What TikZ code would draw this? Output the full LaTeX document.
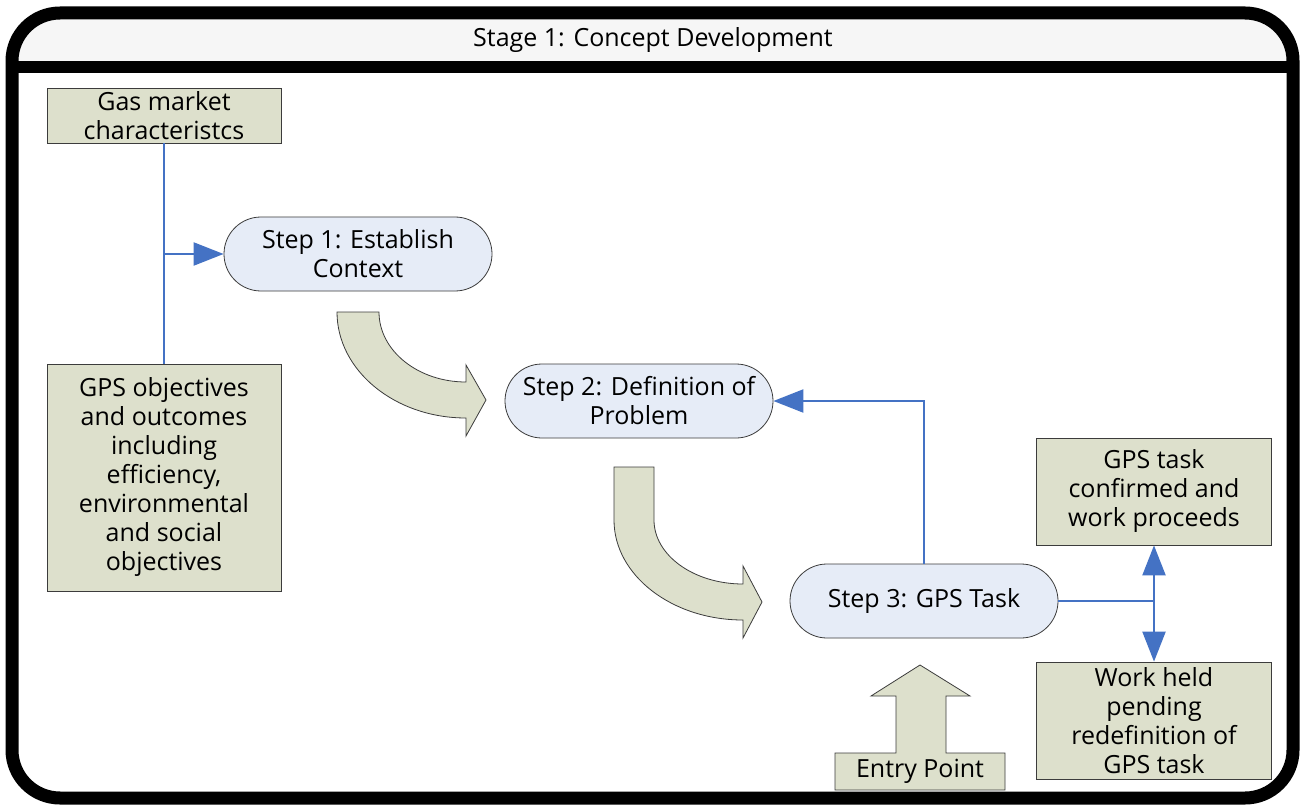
\documentclass[tikz,border=0pt]{standalone}
\usepackage{fontspec}
\setmainfont{Open Sans}
\usetikzlibrary{arrows.meta}
\definecolor{olive}{RGB}{221,224,204}
\definecolor{stepfill}{RGB}{230,236,247}
\definecolor{conn}{RGB}{68,114,196}
\definecolor{edgegray}{RGB}{60,60,60}
\definecolor{headgray}{RGB}{246,246,246}
\begin{document}
\begin{tikzpicture}[x=1pt,y=-1pt,
  every node/.style={font=\fontsize{25}{29}\selectfont, align=center, inner sep=0pt},
  infobox/.style={draw=edgegray, line width=0.8pt, fill=olive},
  stepnode/.style={draw=edgegray, line width=0.8pt, fill=stepfill, rounded corners=37pt, minimum width=268pt, minimum height=74pt},
  link/.style={draw=conn, line width=2.2pt},
  linkarrow/.style={link, -{Triangle[length=30pt,width=23pt]}},
  bigarrow/.style={draw=edgegray, line width=0.8pt, fill=olive}
]
\useasboundingbox (0,0) rectangle (1308,810);
% frame
\begin{scope}
\clip[rounded corners=48pt] (12,13) rectangle (1293,798);
\fill[white] (12,13) rectangle (1293,798);
\fill[headgray] (12,13) rectangle (1293,67);
\end{scope}
\draw[line width=13pt, rounded corners=48pt] (12,13) rectangle (1293,798);
\draw[line width=12pt] (12,67) -- (1293,67);
\node (title) at (653,40) {Stage 1: Concept Development};

% boxes
\node[infobox, minimum width=234pt, minimum height=55pt] (gas) at (164,115.5) {Gas market\\characteristcs};
\node[infobox, minimum width=234pt, minimum height=227pt] (gps) at (164,477.5) {GPS objectives\\and outcomes\\including\\efficiency,\\environmental\\and social\\objectives};
\node[stepnode] (s1) at (358,254) {Step 1: Establish\\Context};
\node[stepnode] (s2) at (639,401) {Step 2: Definition of\\Problem};
\node[stepnode] (s3) at (924,601) {Step 3: GPS Task};
\node[infobox, minimum width=235pt, minimum height=107pt] (conf) at (1154,491.5) {GPS task\\confirmed and\\work proceeds};
\node[infobox, minimum width=235pt, minimum height=117pt] (held) at (1154,720.5) {Work held\\pending\\redefinition of\\GPS task};

% big curved arrows
\draw[bigarrow] (337,312) .. controls (337,370.5) and (394.8,418) .. (466,418)
  -- (466,436) -- (486,400) -- (466,365) -- (466,382)
  .. controls (418,382) and (379,350.7) .. (379,312) -- cycle;
\draw[bigarrow] (614,467) -- (614,520) .. controls (614,575.2) and (671.8,620) .. (743,620)
  -- (743,638) -- (762,602) -- (743,566) -- (743,584)
  .. controls (693.8,584) and (654,555.3) .. (654,520) -- (654,467) -- cycle;

% entry point
\draw[bigarrow] (835,753) -- (896,753) -- (896,696) -- (871,696) -- (920,665) -- (970,696)
  -- (946,696) -- (946,753) -- (1005,753) -- (1005,790) -- (835,790) -- cycle;
\node (entry) at (920,771.5) {Entry Point};

% connectors
\draw[link] (gas.south) -- (gps.north);
\coordinate (j1) at (164,254);
\draw[linkarrow] (j1) -- (s1.west);
\draw[linkarrow] (s3.north) |- (s2.east);
\coordinate (j2) at (1154,601);
\draw[link] (s3.east) -- (j2);
\draw[linkarrow] (j2) -- (conf.south);
\draw[linkarrow] (j2) -- (held.north);
\end{tikzpicture}
\end{document}
